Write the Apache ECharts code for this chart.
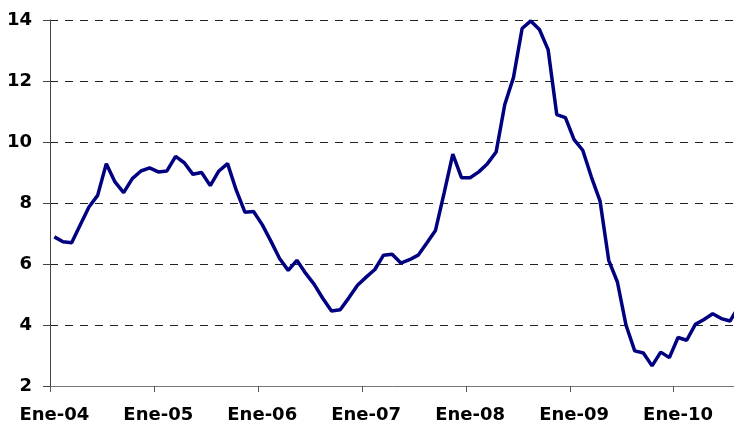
<!DOCTYPE html>
<html>
<head>
<meta charset="utf-8">
<script src="https://cdn.jsdelivr.net/npm/echarts@6/dist/echarts.min.js"></script>
<style>
  html, body { margin: 0; padding: 0; background: #fff; }
  #chart { width: 734px; height: 421px; }
</style>
</head>
<body>
<div id="chart"></div>
<script>
// meses (eje X) y años
const months = ['Ene', 'Feb', 'Mar', 'Abr', 'May', 'Jun', 'Jul', 'Ago', 'Sep', 'Oct', 'Nov', 'Dic']
const years = ['04', '05', '06', '07', '08', '09', '10']

// valores mensuales, Ene-04 ... Ago-10
const values = [
  6.89, 6.73, 6.70, 7.29, 7.87, 8.25, 9.29, 8.69, 8.34, 8.80, 9.05, 9.15,
  9.02, 9.05, 9.53, 9.32, 8.94, 9.00, 8.57, 9.05, 9.29, 8.42, 7.70, 7.72,
  7.29, 6.75, 6.18, 5.79, 6.12, 5.70, 5.33, 4.87, 4.46, 4.50, 4.89, 5.30,
  5.57, 5.82, 6.29, 6.32, 6.03, 6.14, 6.29, 6.69, 7.10, 8.33, 9.60, 8.83,
  8.83, 9.02, 9.29, 9.67, 11.23, 12.11, 13.72, 13.97, 13.69, 13.03, 10.90, 10.80,
  10.08, 9.73, 8.85, 8.06, 6.12, 5.41, 3.99, 3.15, 3.08, 2.66, 3.11, 2.93,
  3.59, 3.50, 4.02, 4.18, 4.37, 4.21, 4.13, 4.60
]

// eje Y
const yMin = 2
const yMax = 14
const yStep = 2

// categorías: "Ene-04", "Feb-04", ...
const categories = values.map((_, i) => months[i % 12] + '-' + years[Math.floor(i / 12)])

const chart = echarts.init(document.getElementById('chart'))

const labelFont = {
  fontFamily: 'DejaVu Sans',
  fontWeight: 'bold',
  fontSize: 18,
  color: '#000',
}

chart.setOption({
  animation: false,
  grid: {
    left: 50,
    top: 20,
    width: 693,
    bottom: 35,
    containLabel: false,
    outerBoundsMode: 'none',
  },
  xAxis: {
    type: 'category',
    data: categories,
    boundaryGap: true,
    axisLine: { show: true, lineStyle: { color: '#777', width: 1 } },
    axisTick: { show: true, interval: 11, length: 6, lineStyle: { color: '#555' } },
    axisLabel: {
      interval: 11,
      margin: 20,
      hideOverlap: false,
      ...labelFont,
    },
    splitLine: { show: false },
  },
  yAxis: {
    type: 'value',
    min: yMin,
    max: yMax,
    interval: yStep,
    axisLine: { show: true, lineStyle: { color: '#444', width: 1 } },
    axisTick: { show: true, length: 7, lineStyle: { color: '#444' } },
    axisLabel: {
      margin: 18,
      ...labelFont,
    },
    splitLine: {
      show: true,
      lineStyle: { color: '#222', width: 1, type: [8, 7] },
    },
  },
  series: [
    {
      type: 'line',
      data: values,
      symbol: 'none',
      smooth: false,
      lineStyle: { color: '#000080', width: 3.5 },
    },
  ],
})
</script>
</body>
</html>
